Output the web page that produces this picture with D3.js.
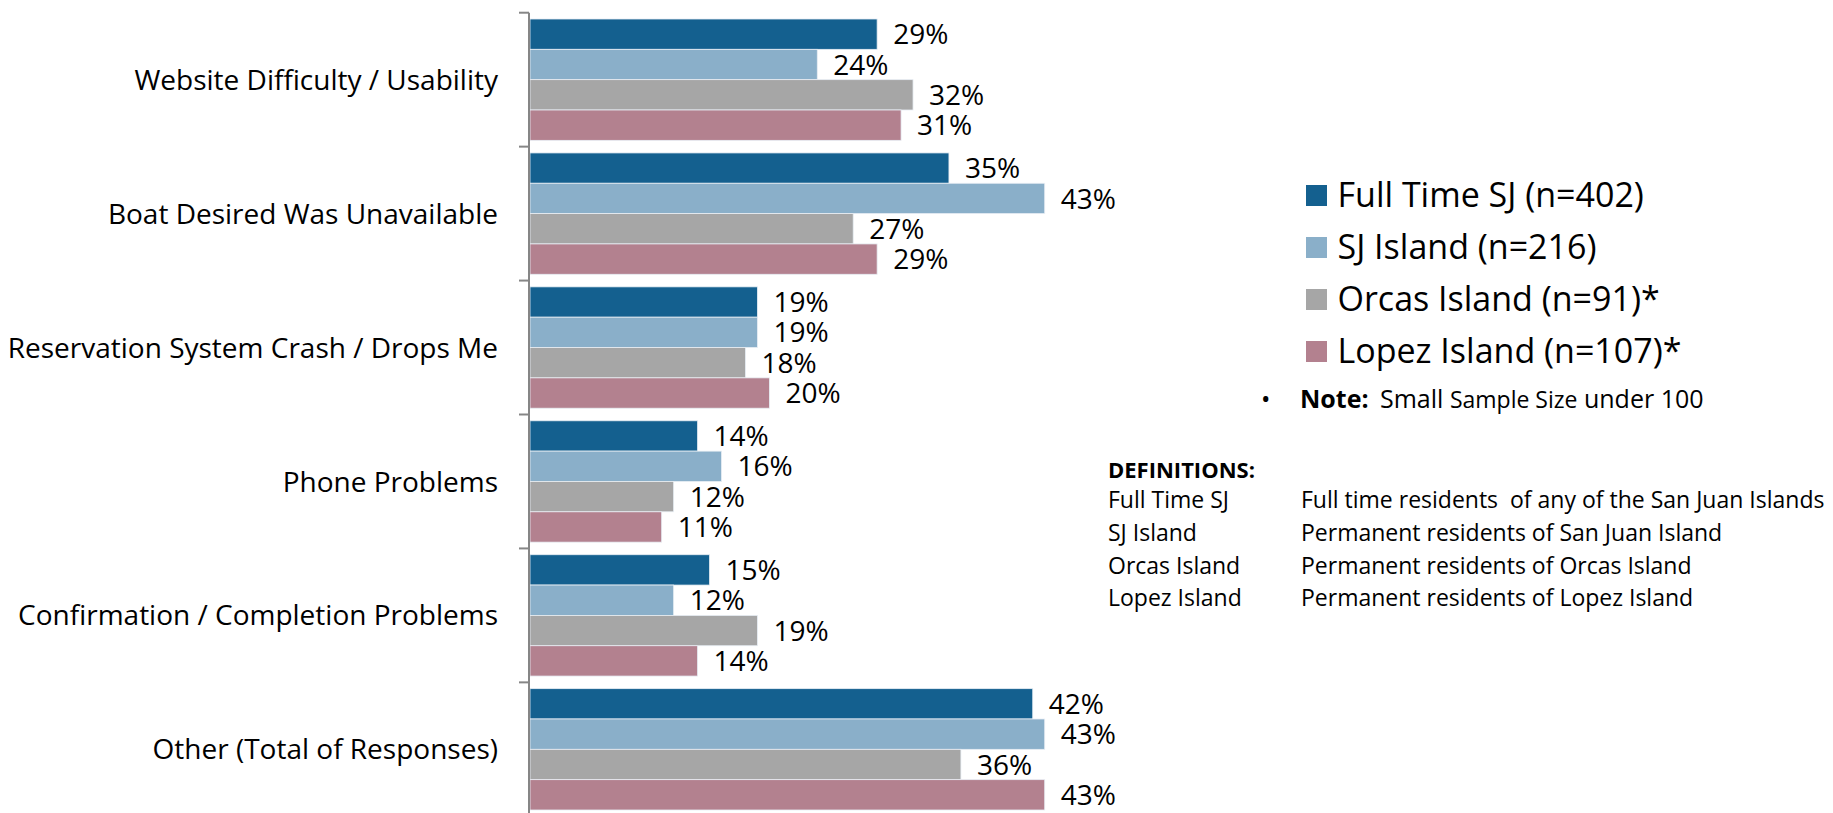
<!DOCTYPE html>
<html>
<head>
<meta charset="utf-8">
<script src="https://cdn.jsdelivr.net/npm/d3@7"></script>
<style>
  html, body { margin: 0; padding: 0; background: #fff; }
  svg { display: block; font-family: "Open Sans", sans-serif; }
</style>
</head>
<body>
<svg id="chart" width="1833" height="813"></svg>
<script>
// ---- data ----
const categories = [
  "Website Difficulty / Usability",
  "Boat Desired Was Unavailable",
  "Reservation System Crash / Drops Me",
  "Phone Problems",
  "Confirmation / Completion Problems",
  "Other (Total of Responses)"
];
const seriesNames = ["Full Time SJ (n=402)", "SJ Island (n=216)", "Orcas Island (n=91)*", "Lopez Island (n=107)*"];
const fullTimeSJ = [0.29, 0.35, 0.19, 0.14, 0.15, 0.42];
const sjIsland   = [0.24, 0.43, 0.19, 0.16, 0.12, 0.43];
const orcas      = [0.32, 0.27, 0.18, 0.12, 0.19, 0.36];
const lopez      = [0.31, 0.29, 0.20, 0.11, 0.14, 0.43];
const seriesValues = [fullTimeSJ, sjIsland, orcas, lopez];
const colors = ["#14608F", "#8AAFC9", "#A6A6A6", "#B3818F"];
const defLabels = ["Full Time SJ", "SJ Island", "Orcas Island", "Lopez Island"];
const defTexts = [
  "Full time residents  of any of the San Juan Islands",
  "Permanent residents of San Juan Island",
  "Permanent residents of Orcas Island",
  "Permanent residents of Lopez Island"
];

// ---- layout ----
const svg = d3.select("#chart");
const axisX = 529;
const x = d3.scaleLinear().domain([0, 1]).range([530, 530 + 1197]);
const y = d3.scaleBand().domain(categories).range([12.7, 816.3])
  .paddingInner(0.094).paddingOuter(0.047);
const yInner = d3.scaleBand().domain(d3.range(seriesNames.length)).range([0, y.bandwidth()]);
const fmt = d3.format(".0%");

// bars
const groups = svg.append("g").selectAll("g")
  .data(categories)
  .join("g")
  .attr("transform", d => `translate(0,${y(d)})`);

groups.selectAll("rect")
  .data((c, ci) => seriesValues.map((vals, si) => ({ si, v: vals[ci] })))
  .join("rect")
  .attr("x", x(0))
  .attr("y", d => yInner(d.si))
  .attr("width", d => x(d.v) - x(0))
  .attr("height", yInner.bandwidth())
  .attr("fill", d => colors[d.si])
  .attr("stroke", "#e8eef4")
  .attr("stroke-width", 0.8);

groups.selectAll("text.val")
  .data((c, ci) => seriesValues.map((vals, si) => ({ si, v: vals[ci] })))
  .join("text")
  .attr("class", "val")
  .attr("x", d => x(d.v) + 16)
  .attr("y", d => yInner(d.si) + yInner.bandwidth() / 2)
  .attr("dy", "0.36em")
  .attr("font-size", 28)
  .attr("fill", "#000")
  .text(d => fmt(d.v));

// axis: category labels
const axis = svg.append("g")
  .attr("transform", `translate(${axisX},0)`)
  .call(d3.axisLeft(y).tickSize(0).tickPadding(31));
axis.select(".domain").remove();
axis.selectAll("text")
  .attr("font-size", 28)
  .attr("font-family", "Open Sans, sans-serif")
  .attr("fill", "#000")
  .attr("dy", "0.36em");

// axis line and boundary ticks
const step = y.step();
const boundaries = categories.map(c => y(c) - step * y.paddingInner() / 2)
  .concat([y(categories[categories.length - 1]) + y.bandwidth() + step * y.paddingInner() / 2]);
svg.append("line")
  .attr("x1", axisX).attr("x2", axisX)
  .attr("y1", boundaries[0]).attr("y2", 820)
  .attr("stroke", "#868686").attr("stroke-width", 2);
svg.append("g").selectAll("line")
  .data(boundaries)
  .join("line")
  .attr("x1", axisX - 10).attr("x2", axisX)
  .attr("y1", d => d).attr("y2", d => d)
  .attr("stroke", "#868686").attr("stroke-width", 2);

// legend
const legend = svg.append("g").attr("transform", "translate(1306,185)");
const li = legend.selectAll("g")
  .data(seriesNames)
  .join("g")
  .attr("transform", (d, i) => `translate(0,${i * 52})`);
li.append("rect").attr("width", 21).attr("height", 21).attr("fill", (d, i) => colors[i]);
li.append("text")
  .attr("x", 31.5).attr("y", 9.5).attr("dy", "0.36em")
  .attr("font-size", 34).attr("fill", "#000")
  .text(d => d);

// note
const note = svg.append("g");
note.append("text").attr("x", 1261).attr("y", 407.7).attr("font-size", 25).text("•");
note.append("text").attr("x", 1300).attr("y", 407.7).attr("font-size", 25)
  .attr("font-weight", "bold").text("Note:");
const nt = note.append("text").attr("x", 1380).attr("y", 407.7).attr("font-size", 25);
nt.append("tspan").text("Small ");
nt.append("tspan").attr("font-size", 23).text("Sample Size");
nt.append("tspan").text(" under 100");

// definitions
const defs = svg.append("g").attr("font-size", 23).attr("fill", "#000");
defs.append("text").attr("x", 1108).attr("y", 478).attr("font-weight", "bold")
  .attr("font-size", 22).text("DEFINITIONS:");
defs.selectAll("text.dl").data(defLabels).join("text").attr("class", "dl")
  .attr("x", 1108).attr("y", (d, i) => 508 + i * 32.8).text(d => d);
defs.selectAll("text.dt").data(defTexts).join("text").attr("class", "dt")
  .attr("x", 1301).attr("y", (d, i) => 508 + i * 32.8)
  .style("white-space", "pre").text(d => d);
</script>
</body>
</html>
